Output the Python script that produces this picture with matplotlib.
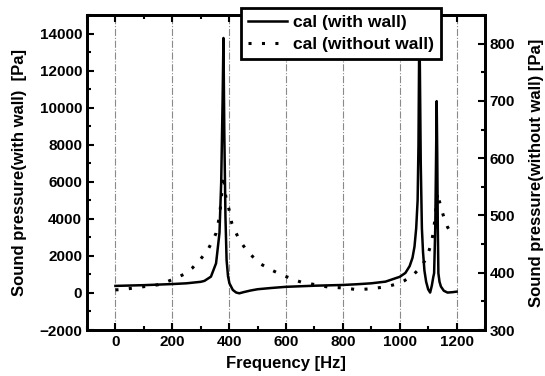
import matplotlib
matplotlib.use("Agg")
import matplotlib.pyplot as plt
from matplotlib.ticker import MultipleLocator

# ---- data: with wall (left axis) ----
wall_freq = [0, 50, 100, 150, 200, 250, 300, 313, 336, 354, 366, 372, 377, 380,
             383, 387, 391, 396, 401, 413, 425, 436, 450, 475, 500, 550, 600,
             650, 700, 750, 800, 850, 900, 950, 1000, 1020, 1035, 1045, 1052,
             1058, 1063, 1066, 1069, 1071, 1074, 1078, 1082, 1087, 1093, 1100,
             1107, 1113, 1118, 1121, 1125, 1128, 1130, 1132, 1134, 1136, 1140,
             1145, 1155, 1168, 1185, 1200]
wall_val = [380, 400, 420, 450, 480, 520, 600, 650, 880, 1600, 3240, 5950, 10400,
            13760, 8650, 4120, 1780, 900, 520, 160, 20, -20, 40, 130, 200, 270,
            330, 360, 390, 410, 430, 470, 520, 610, 870, 1080, 1450, 1900, 2500,
            3500, 5000, 8000, 14500, 12000, 7000, 3500, 2200, 1200, 600, 200,
            20, 400, 850, 1065, 3500, 7500, 10350, 7500, 3500, 1065, 600,
            343, 120, 20, 40, 70]

# ---- data: without wall (right axis) ----
free_freq = [0, 30, 60, 90, 120, 150, 180, 210, 240, 270, 300, 325, 340, 354,
             362, 368, 372, 376, 380, 384, 389, 397, 404, 409, 422, 436, 456,
             483, 512, 544, 573, 602, 632, 664, 694, 721, 750, 782, 811, 841,
             870, 899, 929, 957, 987, 1016, 1045, 1075, 1092, 1104, 1112, 1118,
             1123, 1127, 1131, 1134, 1139, 1148, 1157, 1168, 1186]
free_val = [370, 371, 373, 375, 377, 379, 384, 390, 397, 408, 424, 440, 454, 469,
            488, 508, 527, 550, 570, 550, 530, 516, 501, 487, 472, 457, 443,
            428, 415, 406, 399, 393, 387, 382, 380, 377, 375, 374, 373, 371,
            371, 372, 374, 376, 380, 386, 395, 410, 424, 440, 454, 470,
            490, 510, 530, 540, 526, 509, 494, 480, 464]

xticks = [0, 200, 400, 600, 800, 1000, 1200]
label_wall = "cal (with wall)"
label_free = "cal (without wall)"

plt.rcParams['font.family'] = ['Liberation Sans', 'DejaVu Sans']
plt.rcParams['font.weight'] = 'bold'

fig = plt.figure(figsize=(5.45, 3.76), dpi=100)
ax = fig.add_axes([87/545, 1-330/376, (485-87)/545, (330-15)/376])
ax2 = ax.twinx()

ax.set_xlim(-100, 1300)
ax.set_ylim(-2000, 15000)
ax2.set_ylim(300, 850)

for x in xticks:
    ax.axvline(x, color='#8a8a8a', lw=0.8, ls='-.', zorder=0)

l1, = ax.plot(wall_freq, wall_val, color='black', lw=1.8, label=label_wall)
l2, = ax2.plot(free_freq, free_val, color='black', lw=2.2,
               ls=(0, (1, 3.4)), label=label_free)

ax.set_xticks(xticks)
ax.xaxis.set_minor_locator(MultipleLocator(100))
ax.yaxis.set_major_locator(MultipleLocator(2000))
ax.yaxis.set_minor_locator(MultipleLocator(1000))
ax2.yaxis.set_major_locator(MultipleLocator(100))
ax2.yaxis.set_minor_locator(MultipleLocator(50))

ax.tick_params(axis='both', which='both', direction='in', top=True, right=False,
               labelsize=11, width=1.5)
ax.tick_params(which='major', length=5)
ax.tick_params(which='minor', length=3)
ax2.tick_params(axis='y', which='both', direction='in', labelsize=11, width=1.5)
ax2.tick_params(which='major', length=5)
ax2.tick_params(which='minor', length=3)

for a in (ax, ax2):
    for s in a.spines.values():
        s.set_linewidth(2)

for lab in ax.get_xticklabels() + ax.get_yticklabels() + ax2.get_yticklabels():
    lab.set_fontweight('bold')

ax.set_xlabel("Frequency [Hz]", fontsize=12, fontweight='bold', labelpad=5)
ax.set_ylabel("Sound pressure(with wall)  [Pa]", fontsize=12, fontweight='bold', labelpad=9)
ax2.set_ylabel("Sound pressure(without wall) [Pa]", fontsize=12, fontweight='bold', labelpad=10)

leg = ax2.legend(handles=[l1, l2], loc='upper left', bbox_to_anchor=(0.387, 1.022),
                 borderaxespad=0, fancybox=False, framealpha=1, edgecolor='black',
                 handlelength=2.2, handletextpad=0.35, prop={'weight': 'bold', 'size': 12.6},
                 borderpad=0.4, labelspacing=0.38)
leg.get_frame().set_linewidth(2)
leg.set_zorder(10)

fig.savefig("out.png", dpi=100)
